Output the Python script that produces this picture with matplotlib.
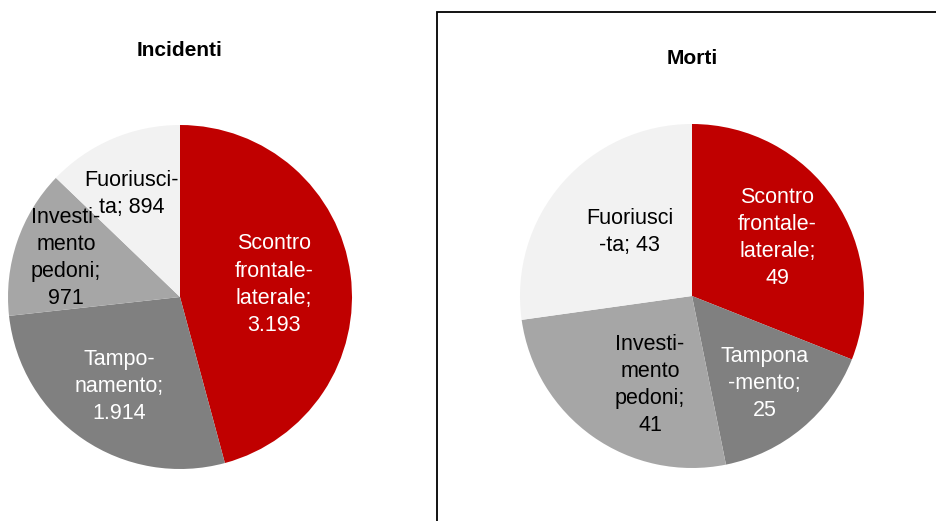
import matplotlib
matplotlib.use("Agg")
import matplotlib.pyplot as plt
import matplotlib.patches as mpatches
import numpy as np
from matplotlib import font_manager

names = {f.name for f in font_manager.fontManager.ttflist}
fam = [f for f in ["Liberation Sans Narrow", "Liberation Sans", "DejaVu Sans"] if f in names]
plt.rcParams['font.family'] = fam

# Data
categories = ["Scontro frontale-laterale", "Tamponamento", "Investimento pedoni", "Fuoriuscita"]
incidenti = [3193, 1914, 971, 894]
morti = [49, 25, 41, 43]
labels_incidenti = ["Scontro\nfrontale-\nlaterale;\n3.193", "Tampo-\nnamento;\n1.914",
                    "Investi-\nmento\npedoni;\n971", "Fuoriusci-\nta; 894"]
labels_morti = ["Scontro\nfrontale-\nlaterale;\n49", "Tampona\n-mento;\n25",
                "Investi-\nmento\npedoni;\n41", "Fuoriusci\n-ta; 43"]
colors = ["#C00000", "#808080", "#A6A6A6", "#F2F2F2"]
text_colors = ["white", "white", "black", "black"]

W, H = 936, 521
fig = plt.figure(figsize=(W / 100, H / 100), dpi=100)

def draw(values, labels, cx, cy, r, dists, dangs, title, ty):
    ax = fig.add_axes([(cx - r) / W, (H - cy - r) / H, 2 * r / W, 2 * r / H])
    wedges, _ = ax.pie(values, colors=colors, startangle=90, counterclock=False,
                       radius=1.0, wedgeprops=dict(linewidth=0))
    for w, lab, tc, d, da in zip(wedges, labels, text_colors, dists, dangs):
        ang = np.deg2rad((w.theta1 + w.theta2) / 2 + da)
        ax.text(d * np.cos(ang), d * np.sin(ang), lab, ha='center', va='center',
                multialignment='center', color=tc, fontsize=15.5, linespacing=1.38)
    ax.set_xlim(-1, 1)
    ax.set_ylim(-1, 1)
    ax.set_aspect('equal')
    ax.axis('off')
    fig.text(cx / W, 1 - ty / H, title, ha='center', va='center', fontsize=15,
             fontweight='bold')

draw(incidenti, labels_incidenti, 180, 297, 172, [0.55, 0.63, 0.70, 0.66], [0, 0, 0, 2],
     "Incidenti", 50)
draw(morti, labels_morti, 692, 296, 172, [0.60, 0.66, 0.57, 0.52], [0, 0, 10, -5],
     "Morti", 58)

rect = mpatches.Rectangle((437 / W, -0.05), 1.0, (H - 12) / H + 0.05, transform=fig.transFigure,
                          fill=False, edgecolor='black', linewidth=1.3)
fig.patches.append(rect)

fig.savefig("out.png", dpi=100)
